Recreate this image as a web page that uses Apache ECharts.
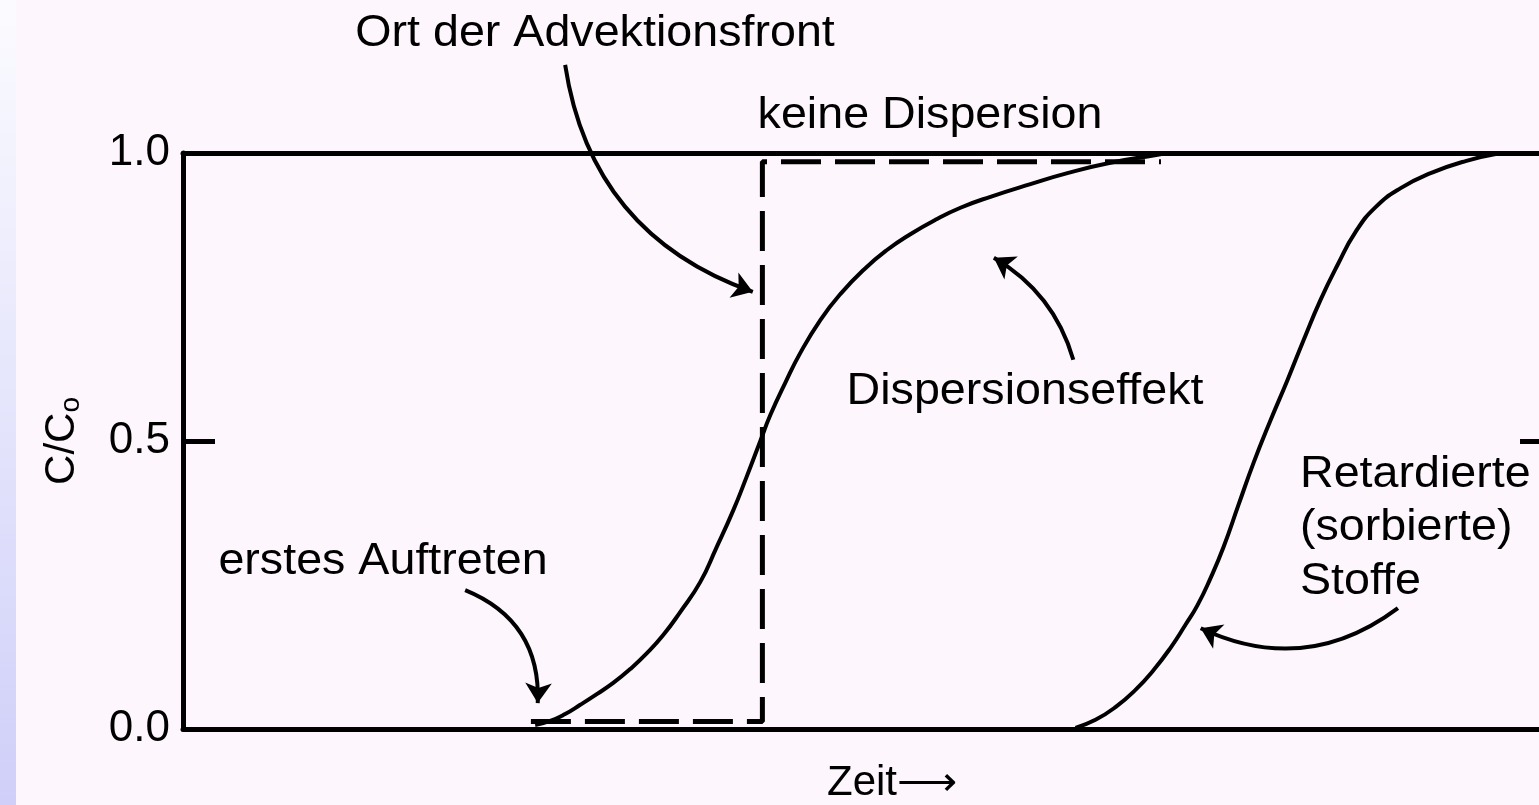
<!DOCTYPE html>
<html>
<head>
<meta charset="utf-8">
<title>Durchbruchskurve</title>
<script src="https://cdn.jsdelivr.net/npm/echarts@6/dist/echarts.min.js"></script>
<style>
  html, body { margin: 0; padding: 0; background: #fdf7fd; }
  #main { width: 1539px; height: 805px; }
</style>
</head>
<body>
<div id="main"></div>
<script>
// Zeit in willkürlichen Einheiten, Konzentration C/Co (0..1)
// die Zeitachse ist rechts abgeschnitten, sichtbar bis etwa 99
var xMax = 99;
var yTicks = [0, 0.5, 1.0];

// Kurve mit Dispersion
var dispersionCurve = [
    [25.71, 0.007], [26.81, 0.014], [27.90, 0.026], [29.00, 0.042], [30.24, 0.061],
    [31.41, 0.080], [32.65, 0.104], [33.89, 0.132], [35.06, 0.163], [36.30, 0.203],
    [37.76, 0.255], [38.93, 0.314], [40.18, 0.380], [41.12, 0.436], [42.15, 0.500],
    [42.88, 0.545], [43.97, 0.601], [45.07, 0.653], [46.53, 0.710], [47.99, 0.755],
    [49.82, 0.800], [51.42, 0.832], [53.10, 0.859], [54.93, 0.884], [56.76, 0.905],
    [58.95, 0.924], [61.87, 0.946], [64.57, 0.965], [67.71, 0.983], [71.15, 0.997],
    [71.73, 1.0]
];

// retardierte (sorbierte) Stoffe
var retardedCurve = [
    [65.16, 0.002], [66.62, 0.016], [68.08, 0.038], [69.54, 0.068], [70.85, 0.102],
    [72.10, 0.141], [73.19, 0.181], [74.07, 0.215], [75.02, 0.262], [75.97, 0.316],
    [77.06, 0.389], [78.16, 0.462], [79.40, 0.536], [80.64, 0.606], [81.81, 0.675],
    [83.05, 0.745], [84.30, 0.806], [85.61, 0.863], [87.07, 0.906], [88.90, 0.939],
    [91.09, 0.965], [93.64, 0.986], [96.20, 1.0]
];

// keine Dispersion (Stufe an der Advektionsfront)
var noDispersion = [[25.4, 0.013], [42.3, 0.013], [42.3, 0.985], [71.4, 0.985]];

// Pfeile: start, ende, krümmung
var arrowStart = [[27.9, 1.153], [65.0, 0.641], [20.6, 0.241], [88.7, 0.210]];
var arrowEnd = [[41.6, 0.759], [59.2, 0.818], [25.9, 0.045], [74.3, 0.175]];
var arrowBend = [-0.3, -0.2, 0.35, 0.3];

var font = 'Liberation Sans, Arial, Helvetica, sans-serif';

var chart = echarts.init(document.getElementById('main'), null, { renderer: 'canvas' });

function note(text, x, y, align) {
    return {
        type: 'text',
        x: x,
        y: y,
        scaleX: 1.06,
        z: 10,
        style: {
            text: text,
            fontSize: 44,
            fontFamily: font,
            fill: '#000',
            align: align || 'center',
            verticalAlign: 'middle'
        }
    };
}

var arrowData = arrowStart.map(function (s, i) {
    return { coords: [s, arrowEnd[i]], lineStyle: { curveness: arrowBend[i] } };
});

var axisLine = { show: true, onZero: false, lineStyle: { color: '#000', width: 5 } };

chart.setOption({
    backgroundColor: '#fdf7fd',
    animation: false,
    grid: { left: 183, right: 0, top: 153, bottom: 76, outerBoundsMode: 'none' },
    xAxis: [{
        type: 'value',
        min: 0,
        max: xMax,
        position: 'bottom',
        axisLine: axisLine,
        axisTick: { show: false },
        axisLabel: { show: false },
        splitLine: { show: false },
        name: 'Zeit⟶',
        nameLocation: 'middle',
        nameGap: 33,
        nameTextStyle: { fontSize: 42, fontFamily: font, color: '#000', padding: [0, 0, 0, 62] }
    }, {
        type: 'value',
        min: 0,
        max: xMax,
        position: 'top',
        axisLine: axisLine,
        axisTick: { show: false },
        axisLabel: { show: false },
        splitLine: { show: false }
    }],
    yAxis: [{
        type: 'value',
        min: 0,
        max: 1,
        interval: 0.5,
        position: 'left',
        axisLine: axisLine,
        axisTick: { show: true, inside: true, length: 32, lineStyle: { color: '#000', width: 5 } },
        axisLabel: {
            color: '#000',
            fontSize: 44,
            fontFamily: font,
            margin: 13,
            formatter: function (v) { return v.toFixed(1); }
        },
        splitLine: { show: false },
        name: '{c|C/C}{s|o}',
        nameLocation: 'middle',
        nameRotate: 90,
        nameGap: 98,
        nameTextStyle: {
            rich: {
                c: { fontSize: 42, fontFamily: font, color: '#000', lineHeight: 44, verticalAlign: 'top' },
                s: { fontSize: 28, fontFamily: font, color: '#000', lineHeight: 28, verticalAlign: 'bottom' }
            }
        }
    }, {
        // rechte Achse liegt ausserhalb des Bildes, nur der Strich bei 0.5 ist zu sehen
        type: 'value',
        min: 0,
        max: 1,
        interval: 0.5,
        position: 'right',
        axisLine: { show: false, onZero: false },
        axisTick: { show: true, inside: true, length: 19, lineStyle: { color: '#000', width: 5 } },
        axisLabel: { show: false },
        splitLine: { show: false }
    }],
    graphic: [
        {
            type: 'rect',
            left: 0,
            top: 0,
            shape: { width: 16, height: 805 },
            style: {
                fill: new echarts.graphic.LinearGradient(0, 0, 0, 1, [
                    { offset: 0, color: '#fbfbff' },
                    { offset: 1, color: '#cfcff9' }
                ])
            }
        },
        note('Ort der Advektionsfront', 595, 34),
        note('keine Dispersion', 930, 116),
        note('Dispersionseffekt', 1025, 392),
        note('erstes Auftreten', 383, 562),
        note('Retardierte', 1300, 475, 'left'),
        note('(sorbierte)', 1300, 528, 'left'),
        note('Stoffe', 1300, 582, 'left')
    ],
    series: [{
        name: 'Dispersion',
        type: 'line',
        data: dispersionCurve,
        smooth: 0.5,
        symbol: 'none',
        lineStyle: { color: '#000', width: 4 }
    }, {
        name: 'keine Dispersion',
        type: 'line',
        data: noDispersion,
        symbol: 'none',
        lineStyle: { color: '#000', width: 5, type: [40, 14], cap: 'butt' }
    }, {
        name: 'Retardierte Stoffe',
        type: 'line',
        data: retardedCurve,
        smooth: 0.5,
        symbol: 'none',
        lineStyle: { color: '#000', width: 4 }
    }, {
        name: 'Pfeile',
        type: 'lines',
        coordinateSystem: 'cartesian2d',
        clip: false,
        symbol: ['none', 'arrow'],
        symbolSize: 20,
        lineStyle: { color: '#000', width: 4, opacity: 1 },
        data: arrowData
    }]
});
</script>
</body>
</html>
